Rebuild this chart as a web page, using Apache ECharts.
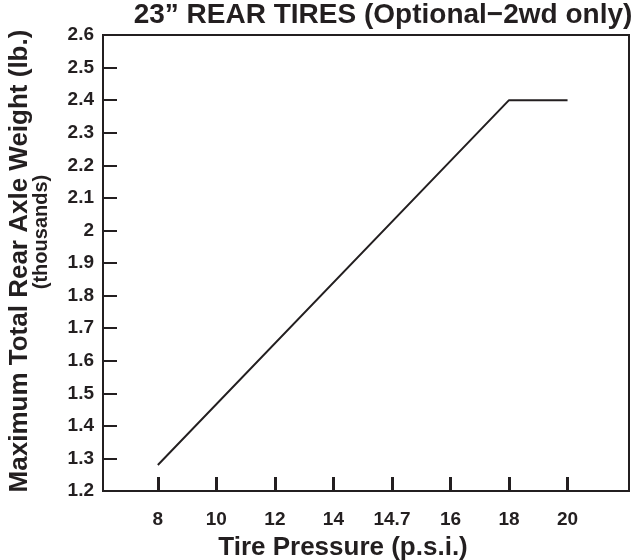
<!DOCTYPE html>
<html>
<head>
<meta charset="utf-8">
<script src="https://cdn.jsdelivr.net/npm/echarts@6/dist/echarts.min.js"></script>
<style>
  html, body { margin: 0; padding: 0; background: #fff; }
  #chart { width: 631px; height: 560px; }
</style>
</head>
<body>
<div id="chart"></div>
<script>
// tick labels on the pressure axis (evenly spaced in the original)
var pressureLabels = ['8', '10', '12', '14', '14.7', '16', '18', '20'];
// line vertices: index into pressureLabels, weight in thousands of lb.
var lineIndex = [0, 6, 7];
var lineWeight = [1.28, 2.4, 2.4];

var font = '"Liberation Sans", Arial, Helvetica, sans-serif';
var ink = '#231f20';

var chart = echarts.init(document.getElementById('chart'));

var points = [];
for (var i = 0; i < lineIndex.length; i++) {
    points.push([lineIndex[i], lineWeight[i]]);
}
var tickPos = [];
for (var i = 0; i < pressureLabels.length; i++) tickPos.push(i);

chart.setOption({
    animation: false,
    title: {
        text: '23\u201D REAR TIRES (Optional\u22122wd only)',
        left: 378,
        top: -4,
        textAlign: 'center',
        textStyle: { fontFamily: font, fontWeight: 'bold', fontSize: 28, color: ink }
    },
    grid: {
        left: 103, right: 2, top: 35, bottom: 69,
        outerBoundsMode: 'none',
        containLabel: false,
        show: true, borderColor: ink, borderWidth: 2
    },
    xAxis: {
        type: 'value',
        min: -0.937,
        max: 8.05,
        splitLine: { show: false },
        axisLine: { show: false },
        axisTick: {
            inside: true, length: 14, customValues: tickPos,
            lineStyle: { color: ink, width: 3 }
        },
        axisLabel: {
            customValues: tickPos,
            margin: 19,
            fontFamily: font, fontWeight: 'bold', fontSize: 19, color: ink,
            formatter: function (v) { return pressureLabels[Math.round(v)]; }
        },
        name: 'Tire Pressure (p.s.i.)',
        nameLocation: 'middle',
        nameGap: 44,
        nameTextStyle: { fontFamily: font, fontWeight: 'bold', fontSize: 26, color: ink, padding: [0, 0, 0, -46] }
    },
    yAxis: {
        type: 'value',
        min: 1.2,
        max: 2.6,
        interval: 0.1,
        splitLine: { show: false },
        axisLine: { show: false, onZero: false },
        axisTick: { show: true, inside: true, length: 14, lineStyle: { color: ink, width: 2 } },
        axisLabel: {
            margin: 9,
            fontFamily: font, fontWeight: 'bold', fontSize: 19, color: ink,
            formatter: function (v) { return +v.toFixed(1) + ''; }
        }
    },
    graphic: [
        {
            type: 'text', x: 20, y: 261, rotation: Math.PI / 2,
            style: {
                text: 'Maximum Total Rear Axle Weight (lb.)',
                font: 'bold 26px ' + font, fill: ink,
                align: 'center', verticalAlign: 'middle'
            }
        },
        {
            type: 'text', x: 41, y: 232, rotation: Math.PI / 2,
            style: {
                text: '(thousands)',
                font: 'bold 20px ' + font, fill: ink,
                align: 'center', verticalAlign: 'middle'
            }
        }
    ],
    series: [{
        type: 'line',
        data: points,
        symbol: 'none',
        lineStyle: { color: ink, width: 2 }
    }]
});
</script>
</body>
</html>
